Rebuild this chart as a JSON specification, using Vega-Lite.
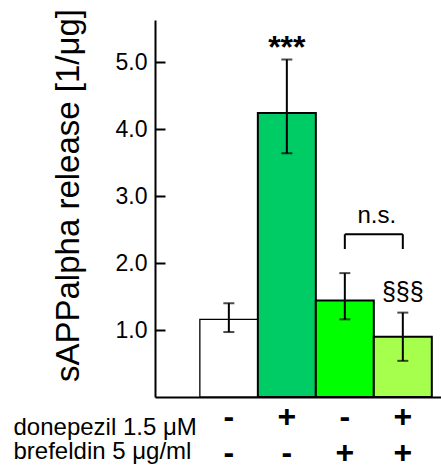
{
  "$schema": "https://vega.github.io/schema/vega-lite/v6.json",
  "autosize": "none",
  "padding": {"left": 155, "top": 20, "right": 0, "bottom": 68},
  "width": 286,
  "height": 377,
  "background": "white",
  "config": {"view": {"stroke": null}, "font": "Liberation Sans"},
  "datasets": {
    "bars": [
      {"condition": "-/-", "value": 1.16, "lo": 0.97, "hi": 1.40, "sig": ""},
      {"condition": "+/-", "value": 4.24, "lo": 3.64, "hi": 5.04, "sig": "***"},
      {"condition": "-/+", "value": 1.44, "lo": 1.16, "hi": 1.85, "sig": ""},
      {"condition": "+/+", "value": 0.90, "lo": 0.54, "hi": 1.26, "sig": "§§§"}
    ],
    "bracket": [
      {"from": "-/+", "to": "+/+", "top": 2.43, "bottom": 2.21, "label": "n.s."}
    ]
  },
  "layer": [
    {
      "data": {"name": "bars"},
      "mark": {"type": "bar", "stroke": "black"},
      "encoding": {
        "x": {
          "field": "condition", "type": "nominal", "sort": null,
          "scale": {"domain": ["-/-", "+/-", "-/+", "+/+"], "paddingInner": 0, "paddingOuter": 0.466, "align": 0.83},
          "axis": {
            "labelExpr": "split(datum.label, '/')",
            "labelAngle": 0,
            "labelFont": "Liberation Sans",
            "labelFontSize": 32,
            "labelFontWeight": "bold",
            "labelColor": "black",
            "labelLineHeight": 36,
            "labelBaseline": "top",
            "labelPadding": 4,
            "ticks": false,
            "domainColor": "black",
            "domainWidth": 2,
            "title": ["donepezil 1.5 μM", "brefeldin 5 μg/ml"],
            "titleFont": "Liberation Sans",
            "titleFontSize": 24,
            "titleFontWeight": "normal",
            "titleColor": "black",
            "titleAlign": "left",
            "titleBaseline": "top",
            "titleLineHeight": 24,
            "titleX": -142,
            "titleY": 18,
            "titleAngle": 0
          }
        },
        "y": {
          "field": "value", "type": "quantitative",
          "scale": {"domain": [0, 5.63], "nice": false, "zero": true},
          "axis": {
            "values": [1, 2, 3, 4, 5],
            "format": ".1f",
            "grid": false,
            "labelFont": "Liberation Sans",
            "labelFontSize": 23,
            "labelColor": "black",
            "labelPadding": 18,
            "tickSize": -10,
            "tickWidth": 2,
            "tickColor": "black",
            "domainColor": "black",
            "domainWidth": 2,
            "title": "sAPPalpha release [1/μg]",
            "titleFont": "Liberation Sans",
            "titleFontSize": 33,
            "titleFontWeight": "normal",
            "titleColor": "black",
            "titleAngle": -90,
            "titleAlign": "center",
            "titleBaseline": "alphabetic",
            "titleX": -77,
            "titleY": 175
          }
        },
        "fill": {
          "field": "condition", "type": "nominal",
          "scale": {"domain": ["-/-", "+/-", "-/+", "+/+"], "range": ["#ffffff", "#00cc66", "#00ff00", "#a6ff4d"]},
          "legend": null
        },
        "strokeWidth": {
          "condition": {"test": "datum.condition === '-/-'", "value": 1.3},
          "value": 2
        }
      }
    },
    {
      "data": {"name": "bars"},
      "mark": {"type": "rule", "color": "black", "strokeWidth": 2},
      "encoding": {
        "x": {"field": "condition", "type": "nominal", "sort": null},
        "y": {"field": "lo", "type": "quantitative"},
        "y2": {"field": "hi"}
      }
    },
    {
      "data": {"name": "bars"},
      "mark": {"type": "tick", "color": "black", "thickness": 2, "size": 11},
      "encoding": {
        "x": {"field": "condition", "type": "nominal", "sort": null},
        "y": {"field": "lo", "type": "quantitative"}
      }
    },
    {
      "data": {"name": "bars"},
      "mark": {"type": "tick", "color": "black", "thickness": 2, "size": 11},
      "encoding": {
        "x": {"field": "condition", "type": "nominal", "sort": null},
        "y": {"field": "hi", "type": "quantitative"}
      }
    },
    {
      "data": {"name": "bars"},
      "transform": [{"filter": "datum.sig === '***'"}],
      "mark": {"type": "text", "font": "Liberation Sans", "fontSize": 32, "fontWeight": "bold", "baseline": "middle", "align": "center", "dy": -12, "color": "black"},
      "encoding": {
        "x": {"field": "condition", "type": "nominal", "sort": null},
        "y": {"field": "hi", "type": "quantitative"},
        "text": {"field": "sig"}
      }
    },
    {
      "data": {"name": "bars"},
      "transform": [{"filter": "datum.sig === '§§§'"}],
      "mark": {"type": "text", "font": "Liberation Sans", "fontSize": 25, "baseline": "middle", "align": "center", "dy": -21, "color": "black"},
      "encoding": {
        "x": {"field": "condition", "type": "nominal", "sort": null},
        "y": {"field": "hi", "type": "quantitative"},
        "text": {"field": "sig"}
      }
    },
    {
      "data": {"name": "bracket"},
      "mark": {"type": "rule", "color": "black", "strokeWidth": 2},
      "encoding": {
        "x": {"field": "from", "type": "nominal", "sort": null},
        "x2": {"field": "to"},
        "y": {"field": "top", "type": "quantitative"}
      }
    },
    {
      "data": {"name": "bracket"},
      "mark": {"type": "rule", "color": "black", "strokeWidth": 2},
      "encoding": {
        "x": {"field": "from", "type": "nominal", "sort": null},
        "y": {"field": "top", "type": "quantitative"},
        "y2": {"field": "bottom"}
      }
    },
    {
      "data": {"name": "bracket"},
      "mark": {"type": "rule", "color": "black", "strokeWidth": 2},
      "encoding": {
        "x": {"field": "to", "type": "nominal", "sort": null},
        "y": {"field": "top", "type": "quantitative"},
        "y2": {"field": "bottom"}
      }
    },
    {
      "data": {"name": "bracket"},
      "mark": {"type": "text", "font": "Liberation Sans", "fontSize": 24, "baseline": "alphabetic", "align": "center", "dx": 32, "dy": -11, "color": "black"},
      "encoding": {
        "x": {"field": "from", "type": "nominal", "sort": null},
        "y": {"field": "top", "type": "quantitative"},
        "text": {"field": "label"}
      }
    }
  ]
}
